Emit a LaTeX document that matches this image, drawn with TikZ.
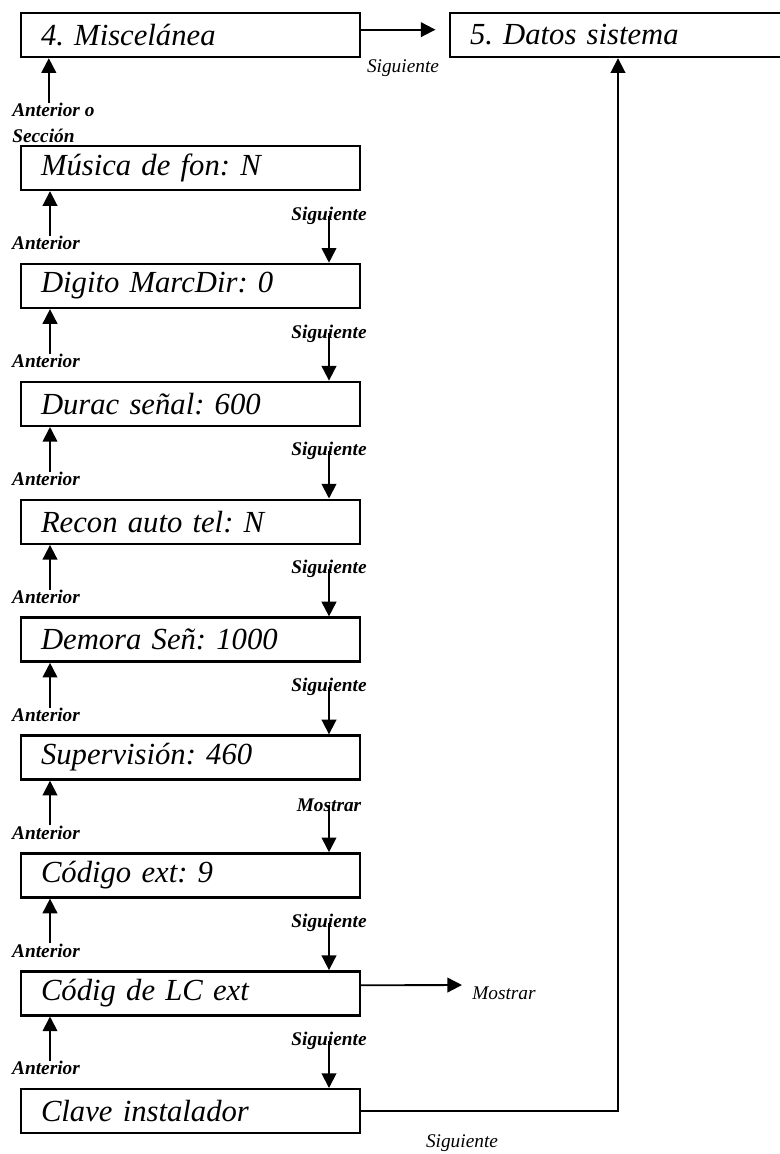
\documentclass[tikz,border=0pt]{standalone}
\usepackage{fontspec}
\setmainfont{Liberation Serif}
\usetikzlibrary{arrows.meta}
\frenchspacing
\begin{document}
\begin{tikzpicture}[x=0.75pt,y=-0.75pt]
        \tikzstyle{box} = [rectangle, draw=black, line width=1.8pt, text=black, minimum width=254.25pt, minimum height=33pt, inner xsep=15pt, text width=224.25pt, align=left, font=\fontsize{23}{26}\selectfont\itshape]
        \tikzstyle{lbl} = [inner sep=0pt, font=\fontsize{14.5}{17}\selectfont\bfseries\itshape]
        \tikzstyle{lblr} = [inner sep=0pt, font=\fontsize{14.5}{17}\selectfont\itshape]
        \tikzstyle{line} = [-{Triangle[length=11pt,width=11pt]},draw=black,line width=1.4pt]
        \useasboundingbox (0,0) rectangle (779,1154);
        % top row
        \node[box] (misc) at (190.5,35) {4. Miscelánea};
        \node[box,minimum width=252pt,text width=222pt] (datos) at (618,35) {5. Datos sistema};
        \node[lblr] (sig0) at (403,68) {Siguiente};
        \node[lbl,anchor=west,align=left] (antS) at (12,123) {Anterior o\\[2pt]Sección};
        % stack
        \node[box] (b0) at (190.5,168) {Música de fon: N};
        \node[box] (b1) at (190.5,285.9) {Digito MarcDir: 0};
        \node[box] (b2) at (190.5,403.8) {Durac señal: 600};
        \node[box] (b3) at (190.5,521.7) {Recon auto tel: N};
        \node[box] (b4) at (190.5,639.6) {Demora Señ: 1000};
        \node[box] (b5) at (190.5,757.5) {Supervisión: 460};
        \node[box] (b6) at (190.5,875.4) {Código ext: 9};
        \node[box] (b7) at (190.5,993.3) {Códig de LC ext};
        \node[box] (b8) at (190.5,1111.2) {Clave instalador};
        % labels
        \node[lbl] (a0) at (46,243) {Anterior};
        \node[lbl] (s0) at (329,215.5) {Siguiente};
        \node[lbl] (a1) at (46,360.9) {Anterior};
        \node[lbl] (s1) at (329,333.4) {Siguiente};
        \node[lbl] (a2) at (46,478.8) {Anterior};
        \node[lbl] (s2) at (329,451.3) {Siguiente};
        \node[lbl] (a3) at (46,596.7) {Anterior};
        \node[lbl] (s3) at (329,569.2) {Siguiente};
        \node[lbl] (a4) at (46,714.6) {Anterior};
        \node[lbl] (s4) at (329,687.1) {Siguiente};
        \node[lbl] (a5) at (46,832.5) {Anterior};
        \node[lbl] (s5) at (329,805) {Mostrar};
        \node[lbl] (a6) at (46,950.4) {Anterior};
        \node[lbl] (s6) at (329,922.9) {Siguiente};
        \node[lbl] (a7) at (46,1068.3) {Anterior};
        \node[lbl] (s7) at (329,1040.8) {Siguiente};
        \node[lblr,anchor=west] (mostR) at (472,993) {Mostrar};
        \node[lblr] (sig8) at (462,1143) {Siguiente};
        % arrows
        \draw[line] ([yshift=4pt]misc.east) to ([xshift=-10pt,yshift=4pt]datos.west);
        \draw[line] ([xshift=21.75pt]misc.south west |- antS.north) to ([xshift=21.75pt]misc.south west);
        \draw[line] ([xshift=3pt]a0.north) to ([xshift=3pt]a0.north |- b0.south);
        \draw[line] ([xshift=3pt]a1.north) to ([xshift=3pt]a1.north |- b1.south);
        \draw[line] ([xshift=3pt]a2.north) to ([xshift=3pt]a2.north |- b2.south);
        \draw[line] ([xshift=3pt]a3.north) to ([xshift=3pt]a3.north |- b3.south);
        \draw[line] ([xshift=3pt]a4.north) to ([xshift=3pt]a4.north |- b4.south);
        \draw[line] ([xshift=3pt]a5.north) to ([xshift=3pt]a5.north |- b5.south);
        \draw[line] ([xshift=3pt]a6.north) to ([xshift=3pt]a6.north |- b6.south);
        \draw[line] ([xshift=3pt]a7.north) to ([xshift=3pt]a7.north |- b7.south);
        \draw[line] (s0.center) to (s0.center |- b1.north);
        \draw[line] (s1.center) to (s1.center |- b2.north);
        \draw[line] (s2.center) to (s2.center |- b3.north);
        \draw[line] (s3.center) to (s3.center |- b4.north);
        \draw[line] (s4.center) to (s4.center |- b5.north);
        \draw[line] (s5.center) to (s5.center |- b6.north);
        \draw[line] (s6.center) to (s6.center |- b7.north);
        \draw[line] (s7.center) to (s7.center |- b8.north);
        \draw[line] ([yshift=6pt]b7.east) to ([xshift=-7.5pt,yshift=6pt]mostR.west);
        \draw[line] (b8.east) -| (datos.south);
    \end{tikzpicture}
\end{document}
